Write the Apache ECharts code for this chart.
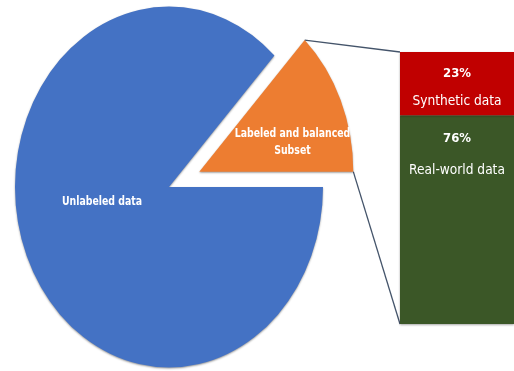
<!DOCTYPE html>
<html>
<head>
<meta charset="utf-8">
<script src="https://cdn.jsdelivr.net/npm/echarts@6/dist/echarts.min.js"></script>
<style>
  html, body { margin: 0; padding: 0; background: #ffffff; }
  #chart { width: 514px; height: 371px; }
</style>
</head>
<body>
<div id="chart"></div>
<script>
// Pie: the whole data pool, split into the labelled subset and the rest
const pieCategories = ['Labeled and balanced\nSubset', 'Unlabeled data'];
const pieValues = [13, 87];

// Bar: composition of the labelled subset (bottom to top)
const barCategories = ['Real-world data', 'Synthetic data'];
const barValues = [76, 23];
const barPercentLabels = ['76%', '23%'];

const FONT = "'Liberation Sans Narrow', 'DejaVu Sans Condensed', 'Open Sans', sans-serif";
const pieColors = ['#ED7D31', '#4472C4'];
const barColors = ['#3B5727', '#C00000'];
const connectorColor = '#44546A';

// Elliptical pie layout (pixels)
const pie = { cx: 169, cy: 187, rx: 154, ry: 180.5, explode: [33, 0] };
// label anchor relative to each slice centre, as fractions of rx / ry
const labelOffsets = [[0.605, -0.165], [-0.435, 0.083]];
const pieLabelSquash = 0.8;

const pieTotal = pieValues.reduce((a, b) => a + b, 0);
const barTotal = barValues.reduce((a, b) => a + b, 0);

// slice angles (radians, counter-clockwise from east)
function sliceAngles(i) {
  let start = 0;
  for (let k = 0; k < i; k++) start += pieValues[k] / pieTotal * 2 * Math.PI;
  return [start, start + pieValues[i] / pieTotal * 2 * Math.PI];
}
function sliceCenter(i) {
  const [a0, a1] = sliceAngles(i);
  const m = (a0 + a1) / 2;
  const d = pie.explode[i];
  return [pie.cx + d * Math.cos(m), pie.cy - d * Math.sin(m) * pie.ry / pie.rx];
}
function rimPoint(i, a) {
  const [x, y] = sliceCenter(i);
  return [x + pie.rx * Math.cos(a), y - pie.ry * Math.sin(a)];
}

const chart = echarts.init(document.getElementById('chart'), null, { renderer: 'canvas' });

const barSeries = barValues.map((v, i) => {
  const isTop = i === barValues.length - 1;
  return {
    name: barCategories[i],
    type: 'bar',
    stack: 'subset',
    barWidth: '100%',
    data: [v],
    itemStyle: {
      color: barColors[i],
      shadowBlur: 2,
      shadowColor: 'rgba(0,0,0,0.35)',
      shadowOffsetY: 1
    },
    label: {
      show: true,
      position: 'insideTop',
      distance: isTop ? 11 : 12,
      formatter: '{p|' + barPercentLabels[i] + '}\n{n|' + barCategories[i] + '}',
      rich: {
        p: { fontFamily: FONT, fontSize: 13, fontWeight: 'bold', color: '#ffffff', lineHeight: 22 },
        n: { fontFamily: FONT, fontSize: 13.6, color: '#ffffff', lineHeight: isTop ? 32 : 43 }
      }
    },
    z: 2
  };
});

chart.setOption({
  animation: false,
  backgroundColor: '#ffffff',
  grid: { left: 400, right: 0, top: 52, bottom: 47 },
  xAxis: { type: 'category', data: ['Subset'], show: false },
  yAxis: { type: 'value', min: 0, max: barTotal, show: false },
  series: [
    ...barSeries,
    {
      // connector lines from the exploded slice to the bar
      type: 'custom',
      coordinateSystem: 'cartesian2d',
      clip: false,
      silent: true,
      data: [[0, 0]],
      z: 1,
      renderItem(params, api) {
        const top = api.coord([0, barTotal]);
        const bottom = api.coord([0, 0]);
        const band = api.size([1, 0])[0];
        const left = top[0] - band / 2;
        const [a0, a1] = sliceAngles(0);
        const pTop = rimPoint(0, a1);
        const pBottom = rimPoint(0, a0);
        const st = { stroke: connectorColor, lineWidth: 1.3 };
        return {
          type: 'group',
          children: [
            { type: 'line', shape: { x1: pTop[0], y1: pTop[1], x2: left, y2: top[1] }, style: st },
            { type: 'line', shape: { x1: pBottom[0], y1: pBottom[1], x2: left, y2: bottom[1] }, style: st }
          ]
        };
      }
    },
    {
      // elliptical pie
      type: 'custom',
      coordinateSystem: 'none',
      silent: true,
      data: pieValues.map((v, i) => [i, v]),
      z: 3,
      renderItem(params, api) {
        const i = params.dataIndex;
        const [a0, a1] = sliceAngles(i);
        const [x, y] = sliceCenter(i);
        const [fx, fy] = labelOffsets[i];
        return {
          type: 'group',
          children: [
            {
              type: 'sector',
              x: x, y: y,
              scaleX: 1, scaleY: pie.ry / pie.rx,
              shape: { cx: 0, cy: 0, r: pie.rx, r0: 0, startAngle: -a1, endAngle: -a0, clockwise: true },
              style: { fill: pieColors[i], shadowBlur: 2, shadowColor: 'rgba(0,0,0,0.4)', shadowOffsetY: 1 }
            },
            {
              type: 'text',
              x: x + fx * pie.rx,
              y: y + fy * pie.ry,
              scaleX: pieLabelSquash,
              z2: 10,
              style: {
                text: pieCategories[i],
                fill: '#ffffff',
                fontFamily: FONT,
                fontSize: 13,
                fontWeight: 'bold',
                lineHeight: 17,
                align: 'center',
                verticalAlign: 'middle'
              }
            }
          ]
        };
      }
    }
  ]
});
</script>
</body>
</html>
